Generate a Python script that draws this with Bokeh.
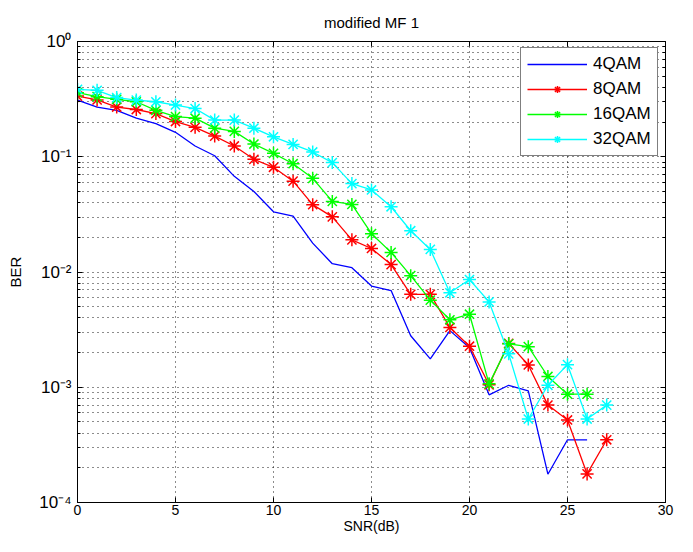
from bokeh.plotting import figure
from bokeh.models import (FixedTicker, LinearAxis, LogAxis, CustomJSTickFormatter,
                          Legend, LegendItem, Range1d)
from bokeh.embed import file_html
from bokeh.resources import INLINE

# ---- data ----
snr_4qam = list(range(0, 27))
ber_4qam = [0.31, 0.27, 0.253, 0.216, 0.194, 0.163, 0.124, 0.102, 0.0676, 0.05,
            0.0333, 0.0306, 0.0178, 0.0118, 0.0109, 0.00755, 0.0069, 0.0028, 0.00176,
            0.0031, 0.0022, 0.00086, 0.00104, 0.00093, 0.000176, 0.00035, 0.00035]

snr_8qam = list(range(0, 28))
ber_8qam = [0.336, 0.311, 0.270, 0.257, 0.237, 0.202, 0.18, 0.151, 0.124, 0.095,
            0.081, 0.0614, 0.0384, 0.0301, 0.019, 0.016, 0.0116, 0.0064, 0.0064,
            0.0033, 0.00227, 0.00105, 0.0024, 0.00156, 0.0007, 0.00052, 0.000177, 0.00035]

snr_16qam = list(range(0, 27))
ber_16qam = [0.36, 0.332, 0.315, 0.30, 0.253, 0.223, 0.216, 0.177, 0.166, 0.129,
             0.107, 0.087, 0.065, 0.041, 0.0386, 0.0215, 0.0148, 0.0093, 0.0057,
             0.00385, 0.0043, 0.00107, 0.00238, 0.00225, 0.00124, 0.00087, 0.00087]

snr_32qam = list(range(0, 28))
ber_32qam = [0.384, 0.377, 0.326, 0.31, 0.30, 0.281, 0.262, 0.208, 0.208, 0.177,
             0.149, 0.128, 0.110, 0.089, 0.0585, 0.0515, 0.0368, 0.0228, 0.0157,
             0.0066, 0.0086, 0.0055, 0.00195, 0.00053, 0.00104, 0.00157, 0.00053, 0.0007]

labels = ["4QAM", "8QAM", "16QAM", "32QAM"]
x_ticks = [0, 5, 10, 15, 20, 25, 30]
y_decades = [1e-4, 1e-3, 1e-2, 1e-1, 1.0]

FONT = "Liberation Sans"

p = figure(width=677, height=536, y_axis_type="log",
           x_range=Range1d(0, 30), y_range=Range1d(1e-4, 1.0),
           output_backend="svg", toolbar_location=None,
           title="modified MF 1",
           min_border_left=77, min_border_right=12, min_border_top=40, min_border_bottom=33)

p.background_fill_color = "white"
p.border_fill_color = "white"
p.outline_line_color = "black"
p.outline_line_width = 1

p.title.align = "center"
p.title.text_font = FONT
p.title.text_font_style = "normal"
p.title.text_font_size = "15px"
p.title.text_color = "black"
p.title.standoff = 22

minor = [m * d for d in y_decades[:-1] for m in range(2, 10)]
y_ticker = FixedTicker(ticks=y_decades, minor_ticks=minor)
x_ticker = FixedTicker(ticks=x_ticks)

sup_code = """
const e = Math.round(Math.log10(tick));
const sup = {'-':'\u207b','0':'\u2070','1':'\u00b9','2':'\u00b2','3':'\u00b3','4':'\u2074',
             '5':'\u2075','6':'\u2076','7':'\u2077','8':'\u2078','9':'\u2079'};
return '10' + String(e).split('').map(c => sup[c]).join('');
"""

xa = p.xaxis[0]
xa.ticker = x_ticker
xa.axis_label = "SNR(dB)"
ya = p.yaxis[0]
ya.ticker = y_ticker
ya.formatter = CustomJSTickFormatter(code=sup_code)
ya.axis_label = "BER"

for ax in (xa, ya):
    ax.axis_line_color = "black"
    ax.major_tick_line_color = "black"
    ax.major_tick_in = 5
    ax.major_tick_out = 0
    ax.major_label_text_font = FONT
    ax.major_label_text_color = "black"
    ax.axis_label_text_font = FONT
    ax.axis_label_text_font_style = "normal"
    ax.axis_label_text_color = "black"
xa.major_label_text_font_size = "14px"
xa.axis_label_text_font_size = "14px"
ya.major_label_text_font_size = "17px"
ya.axis_label_text_font_size = "15px"
xa.minor_tick_line_color = None
xa.major_label_standoff = 2
xa.axis_label_standoff = 0
ya.minor_tick_line_color = "black"
ya.minor_tick_in = 3
ya.minor_tick_out = 0
ya.major_label_standoff = 6
ya.axis_label_standoff = 12

empty = CustomJSTickFormatter(code="return '';")
top = LinearAxis(ticker=x_ticker, formatter=empty, major_tick_in=5, major_tick_out=0,
                 minor_tick_line_color=None, axis_line_color="black",
                 major_label_standoff=0, major_label_text_font_size="1px")
right = LogAxis(ticker=y_ticker, formatter=empty, major_tick_in=5, major_tick_out=0,
                minor_tick_in=3, minor_tick_out=0, axis_line_color="black",
                major_label_standoff=0, major_label_text_font_size="1px")
p.add_layout(top, "above")
p.add_layout(right, "right")

for g in (p.xgrid, p.ygrid):
    g.grid_line_color = "black"
    g.grid_line_dash = "1 4"
    g.grid_line_alpha = 0.9
p.xgrid.ticker = x_ticker
p.ygrid.ticker = y_ticker
p.ygrid.minor_grid_line_color = "black"
p.ygrid.minor_grid_line_dash = "1 4"
p.ygrid.minor_grid_line_alpha = 0.9

items = []
r1 = p.line(snr_4qam, ber_4qam, line_color="#0000ff", line_width=1.3)
items.append(LegendItem(label=labels[0], renderers=[r1]))

series = [(snr_8qam, ber_8qam, "#ff0000"), (snr_16qam, ber_16qam, "#00ff00"),
          (snr_32qam, ber_32qam, "#00ffff")]
for lab, (xs, ys, col) in zip(labels[1:], series):
    rl = p.line(xs, ys, line_color=col, line_width=1.3)
    rm = p.scatter(xs, ys, marker="asterisk", size=13, line_color=col, line_width=1.5)
    items.append(LegendItem(label=lab, renderers=[rl, rm]))

legend = Legend(items=items, location=(443, 346),
                label_text_font=FONT, label_text_font_size="17px", label_text_color="black",
                glyph_width=60, glyph_height=18, label_height=18, label_standoff=6,
                spacing=5, padding=6, margin=0,
                border_line_color="black", border_line_width=1,
                background_fill_color="white", background_fill_alpha=1.0)
p.add_layout(legend, "center")

open("out.html", "w").write(file_html(p, INLINE))
